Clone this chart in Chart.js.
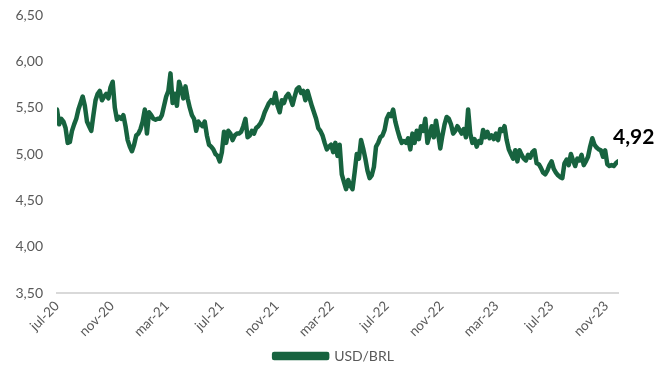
<!DOCTYPE html>
<html>
<head>
<meta charset="utf-8">
<script src="https://cdn.jsdelivr.net/npm/chart.js@4/dist/chart.umd.min.js"></script>
<style>
  html, body { margin: 0; padding: 0; background: #ffffff; }
  canvas { display: block; }
</style>
</head>
<body>
<canvas id="chart" width="668" height="365"></canvas>
<script>
// USD/BRL exchange rate, jul-20 to nov-23 (roughly every 5 days)
const seriesName = 'USD/BRL';
const tickLabels = ['jul-20', 'nov-20', 'mar-21', 'jul-21', 'nov-21', 'mar-22',
                    'jul-22', 'nov-22', 'mar-23', 'jul-23', 'nov-23'];
const monthsPerTick = 4;
const lastMonth = 40.85;   // months after jul-20 of the final quote
const yMin = 3.5, yMax = 6.5, yStep = 0.5;

const usdbrl = [
  5.48, 5.32, 5.38, 5.35, 5.28, 5.12, 5.13, 5.25, 5.32, 5.38,
  5.48, 5.55, 5.62, 5.52, 5.35, 5.30, 5.25, 5.42, 5.58, 5.65,
  5.68, 5.58, 5.62, 5.65, 5.60, 5.72, 5.78, 5.50, 5.37, 5.40,
  5.38, 5.42, 5.30, 5.15, 5.08, 5.03, 5.10, 5.20, 5.22, 5.27,
  5.35, 5.48, 5.22, 5.45, 5.42, 5.38, 5.37, 5.38, 5.38, 5.42,
  5.52, 5.62, 5.68, 5.87, 5.55, 5.65, 5.52, 5.78, 5.70, 5.60,
  5.73, 5.60, 5.50, 5.42, 5.38, 5.25, 5.35, 5.32, 5.30, 5.35,
  5.20, 5.10, 5.08, 5.05, 5.00, 4.98, 4.92, 5.02, 5.24, 5.12,
  5.25, 5.22, 5.15, 5.20, 5.22, 5.22, 5.24, 5.30, 5.38, 5.18,
  5.20, 5.25, 5.22, 5.28, 5.30, 5.33, 5.38, 5.45, 5.50, 5.55,
  5.58, 5.55, 5.66, 5.52, 5.45, 5.58, 5.55, 5.62, 5.65, 5.60,
  5.53, 5.62, 5.70, 5.72, 5.66, 5.68, 5.58, 5.68, 5.60, 5.52,
  5.45, 5.38, 5.28, 5.25, 5.20, 5.12, 5.05, 5.08, 5.10, 5.02,
  5.12, 4.98, 5.10, 4.78, 4.70, 4.62, 4.72, 4.66, 4.62, 4.80,
  5.00, 4.95, 5.15, 5.06, 4.95, 4.82, 4.74, 4.77, 4.86, 5.08,
  5.12, 5.18, 5.20, 5.26, 5.38, 5.43, 5.41, 5.48, 5.35, 5.26,
  5.18, 5.12, 5.14, 5.12, 5.17, 5.05, 5.22, 5.12, 5.25, 5.16,
  5.30, 5.25, 5.38, 5.12, 5.20, 5.30, 5.18, 5.36, 5.22, 5.06,
  5.20, 5.32, 5.40, 5.38, 5.32, 5.22, 5.25, 5.30, 5.26, 5.22,
  5.27, 5.18, 5.48, 5.22, 5.12, 5.16, 5.08, 5.14, 5.12, 5.26,
  5.18, 5.24, 5.17, 5.20, 5.16, 5.22, 5.15, 5.27, 5.25, 5.30,
  5.15, 5.05, 5.00, 4.95, 5.04, 4.92, 5.04, 4.99, 4.95, 4.93,
  4.99, 4.96, 5.02, 5.04, 4.90, 4.89, 4.85, 4.80, 4.78, 4.82,
  4.88, 4.92, 4.84, 4.80, 4.77, 4.75, 4.74, 4.90, 4.94, 4.88,
  5.00, 4.93, 4.87, 4.95, 4.93, 4.99, 4.88, 4.92, 4.97, 5.08,
  5.17, 5.10, 5.07, 5.05, 5.04, 4.97, 5.04, 4.89, 4.87, 4.88,
  4.87, 4.90, 4.92
];

const lineColor = '#17633f';
const textGray = '#595959';
const fontFamily = 'Lato, "Open Sans", sans-serif';

const fmt = v => v.toFixed(2).replace('.', ',');

// quotes spread evenly from jul-20 to the last quote
const points = usdbrl.map((v, i) => ({ x: i * lastMonth / (usdbrl.length - 1), y: v }));

// bold value label beside the last quote
const endLabel = {
  id: 'endLabel',
  afterDatasetsDraw(chart) {
    const meta = chart.getDatasetMeta(0);
    const last = meta.data[meta.data.length - 1];
    const value = usdbrl[usdbrl.length - 1];
    const ctx = chart.ctx;
    ctx.save();
    ctx.font = 'bold 21px ' + fontFamily;
    ctx.fillStyle = '#000000';
    ctx.textAlign = 'left';
    ctx.textBaseline = 'middle';
    ctx.fillText(fmt(value), last.x - 5, last.y - 24);
    ctx.restore();
  }
};

new Chart(document.getElementById('chart'), {
  type: 'line',
  data: {
    datasets: [{
      label: seriesName,
      data: points,
      borderColor: lineColor,
      backgroundColor: lineColor,
      borderWidth: 4.5,
      pointRadius: 0,
      pointHoverRadius: 0,
      tension: 0,
      borderJoinStyle: 'round',
      borderCapStyle: 'round'
    }]
  },
  options: {
    responsive: false,
    animation: false,
    events: [],
    layout: { padding: { top: 15, right: 0, bottom: -8, left: 0 } },
    scales: {
      x: {
        type: 'linear',
        min: 0,
        max: lastMonth,
        grid: { display: false, drawTicks: false },
        border: { display: true, color: '#d9d9d9', width: 2 },
        ticks: {
          stepSize: monthsPerTick,
          includeBounds: false,
          autoSkip: false,
          minRotation: 45,
          maxRotation: 45,
          padding: 5,
          color: textGray,
          font: { family: fontFamily, size: 13.5 },
          callback: v => {
            const i = Math.round(v / monthsPerTick);
            return Math.abs(v - i * monthsPerTick) < 1e-6 ? tickLabels[i] : null;
          }
        },
        afterFit: s => { s.height = 46; s.paddingLeft = 0; s.paddingRight = 0; }
      },
      y: {
        min: yMin,
        max: yMax,
        grid: { display: false, drawTicks: false },
        border: { display: false },
        ticks: {
          stepSize: yStep,
          padding: 14,
          color: textGray,
          font: { family: fontFamily, size: 14 },
          callback: v => fmt(v)
        },
        afterFit: s => { s.width = 57; s.paddingTop = 0; s.paddingBottom = 0; }
      },
      // empty right-hand margin that leaves room for the value label
      margin: {
        position: 'right',
        grid: { display: false, drawTicks: false },
        border: { display: false },
        ticks: { display: false },
        afterFit: s => { s.width = 50; s.paddingTop = 0; s.paddingBottom = 0; }
      }
    },
    plugins: {
      legend: {
        position: 'bottom',
        labels: {
          boxWidth: 53,
          boxHeight: 4,
          padding: 10,
          color: textGray,
          font: { family: fontFamily, size: 14 }
        }
      },
      tooltip: { enabled: false }
    }
  },
  plugins: [endLabel]
});
</script>
</body>
</html>
